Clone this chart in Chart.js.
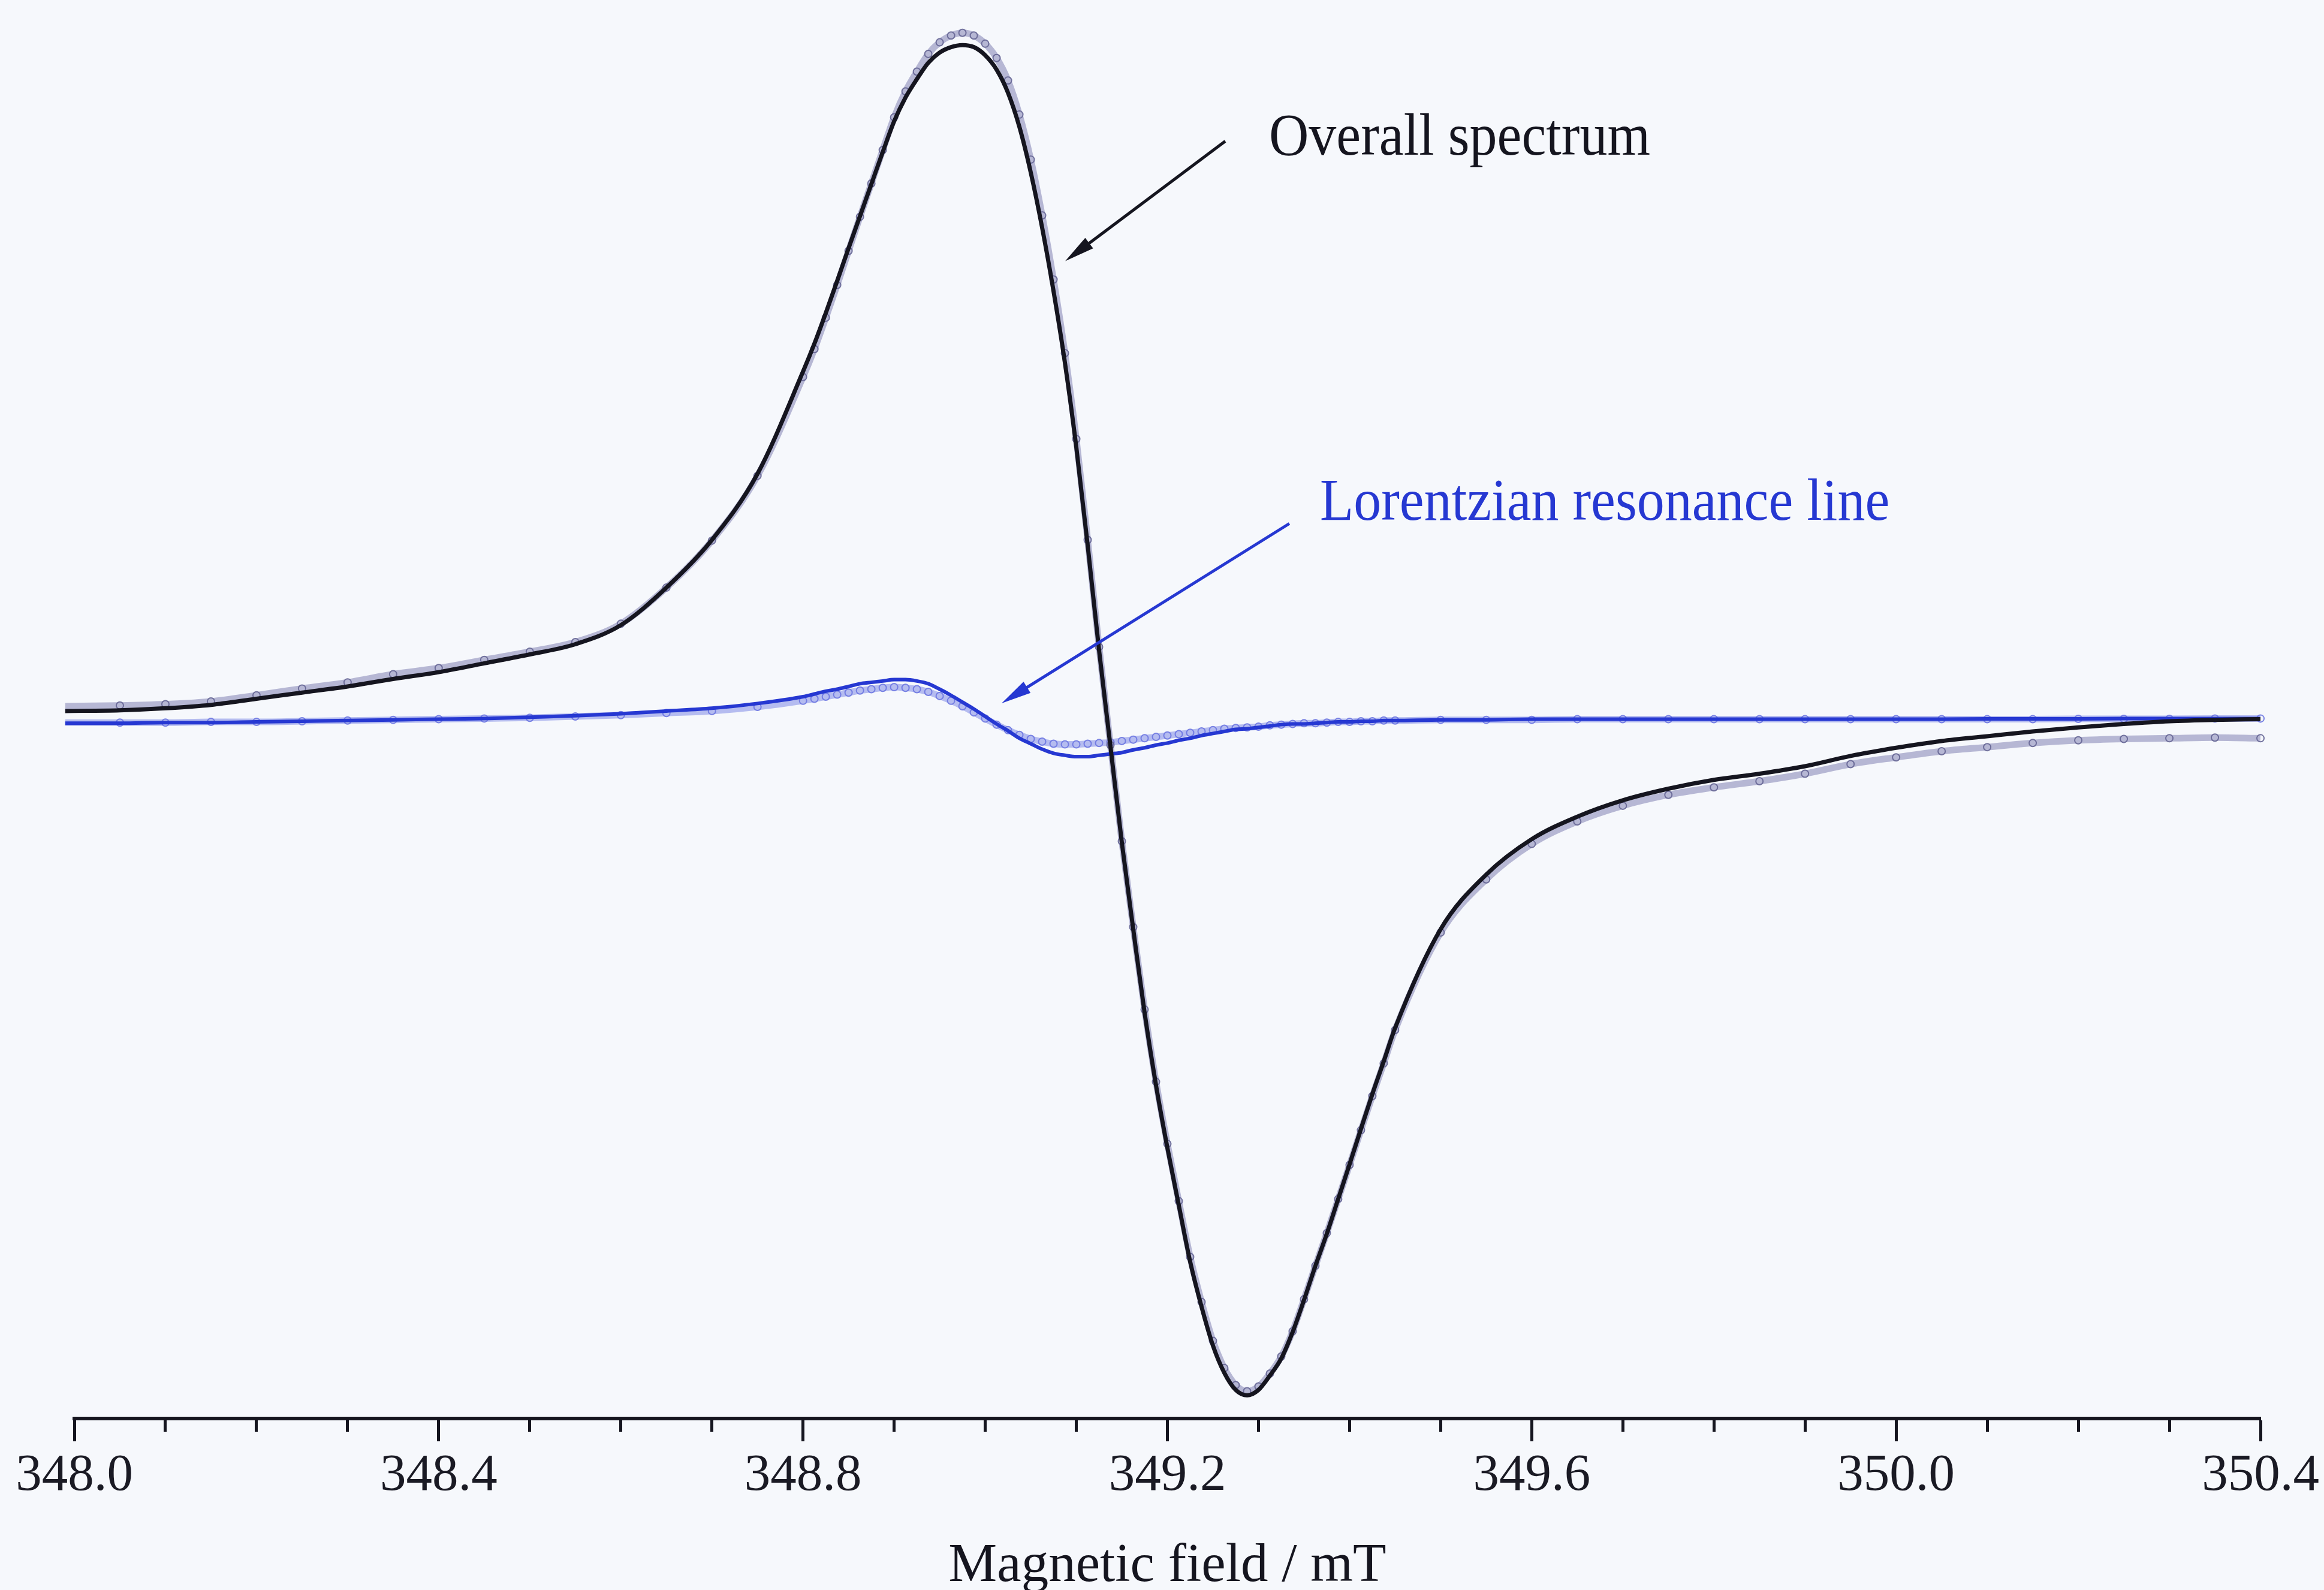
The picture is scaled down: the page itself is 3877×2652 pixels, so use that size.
<!DOCTYPE html>
<html>
<head>
<meta charset="utf-8">
<title>ESR spectrum</title>
<script src="https://cdn.jsdelivr.net/npm/chart.js@4/dist/chart.umd.min.js"></script>
<style>
  html, body { margin: 0; padding: 0; background: #f6f8fc; overflow: hidden; }
  #wrap { width: 3877px; height: 2652px; }
</style>
</head>
<body>
<div id="wrap"><canvas id="spectrum" width="3877" height="2652"></canvas></div>
<script>
// magnetic field (mT), shared by all four series
let fieldMT = [
  347.99, 348.05, 348.10, 348.15, 348.20, 348.25, 348.30, 348.35, 348.40, 348.45, 348.50, 348.55, 348.60, 348.65, 348.70, 348.75,
  348.8, 348.8125, 348.825, 348.8375, 348.85, 348.8625, 348.875, 348.8875, 348.9, 348.9125, 348.925, 348.9375, 348.95, 348.9625, 348.975, 348.9875,
  349.0, 349.0125, 349.025, 349.0375, 349.05, 349.0625, 349.075, 349.0875, 349.1, 349.1125, 349.125, 349.1375, 349.15, 349.1625, 349.175, 349.1875,
  349.2, 349.2125, 349.225, 349.2375, 349.25, 349.2625, 349.275, 349.2875, 349.3, 349.3125, 349.325, 349.3375, 349.35, 349.3625, 349.375, 349.3875,
  349.4, 349.4125, 349.425, 349.4375, 349.45,
  349.5, 349.55, 349.6, 349.65, 349.7, 349.75, 349.8, 349.85, 349.9, 349.95, 350.0, 350.05, 350.1, 350.15, 350.2, 350.25, 350.3, 350.35, 350.4
];

// overall spectrum, fitted line (arb. units)
let overallFit = [
  1.5, 1.6, 1.9, 2.4, 3.3, 4.2, 5.1, 6.2, 7.2, 8.5, 9.8, 11.3, 14.1, 19.6, 26.6, 36.3,
  51.3, 55.4, 59.9, 64.6, 69.4, 74.1, 78.8, 83.5, 88.0, 91.5, 94.2, 96.6, 98.1, 98.9, 99.2, 98.9,
  97.7, 95.6, 92.2, 87.2, 80.5, 72.4, 63.1, 52.6, 40.2, 25.8, 10.4, -3.7, -17.8, -30.5, -42.8, -53.4,
  -62.6, -71.0, -79.3, -85.9, -91.6, -95.6, -98.1, -98.9, -98.1, -96.0, -93.5, -89.6, -84.9, -79.9, -75.2, -70.1,
  -65.0, -59.8, -54.7, -49.9, -45.0,
  -30.5, -22.5, -17.3, -14.0, -11.6, -9.9, -8.6, -7.7, -6.6, -5.1, -3.9, -2.9, -2.2, -1.5, -0.9, -0.4, 0.0, 0.2, 0.3
];

// overall spectrum, measured points
let overallExp = [
  2.2, 2.3, 2.5, 2.9, 3.8, 4.8, 5.7, 6.9, 7.8, 9.0, 10.2, 11.6, 14.3, 19.6, 26.5, 36.0,
  50.5, 54.6, 59.2, 64.0, 69.0, 74.0, 78.9, 83.8, 88.6, 92.4, 95.3, 97.9, 99.6, 100.6, 101.0, 100.6,
  99.4, 97.3, 94.0, 89.0, 82.4, 74.2, 64.8, 54.0, 41.4, 26.6, 10.9, -3.5, -17.6, -30.2, -42.3, -52.9,
  -62.0, -70.4, -78.6, -85.2, -90.9, -94.9, -97.4, -98.3, -97.6, -95.7, -93.2, -89.5, -84.8, -79.9, -75.1, -70.1,
  -65.1, -60.0, -55.0, -50.2, -45.3,
  -31.0, -23.2, -18.0, -14.7, -12.4, -10.8, -9.7, -8.8, -7.7, -6.3, -5.3, -4.4, -3.8, -3.2, -2.8, -2.6, -2.5, -2.4, -2.5
];

// Lorentzian component, fitted line
let lorentzFit = [
  -0.3, -0.3, -0.2, -0.2, -0.1, 0.0, 0.1, 0.2, 0.3, 0.4, 0.6, 0.8, 1.1, 1.5, 1.9, 2.6,
  3.6, 4.0, 4.4, 4.7, 5.1, 5.5, 5.7, 5.9, 6.1, 6.1, 5.9, 5.5, 4.7, 3.8, 2.8, 1.8,
  0.7, -0.4, -1.4, -2.5, -3.3, -4.1, -4.7, -5.0, -5.2, -5.2, -5.0, -4.8, -4.6, -4.2, -3.9, -3.5,
  -3.2, -2.8, -2.5, -2.1, -1.8, -1.5, -1.2, -1.1, -0.9, -0.7, -0.5, -0.4, -0.4, -0.3, -0.2, -0.1,
  -0.1, 0.0, 0.0, 0.1, 0.1,
  0.2, 0.2, 0.3, 0.3, 0.3, 0.3, 0.3, 0.3, 0.3, 0.3, 0.3, 0.3, 0.35, 0.35, 0.35, 0.4, 0.4, 0.4, 0.4
];

// Lorentzian component, measured points
let lorentzExp = [
  -0.2, -0.2, -0.2, -0.1, -0.1, 0.0, 0.1, 0.2, 0.3, 0.4, 0.5, 0.7, 0.9, 1.2, 1.5, 2.1,
  3.0, 3.3, 3.6, 3.9, 4.2, 4.5, 4.7, 4.9, 5.0, 4.9, 4.7, 4.3, 3.7, 3.0, 2.2, 1.3,
  0.4, -0.5, -1.3, -2.0, -2.6, -3.0, -3.3, -3.4, -3.4, -3.3, -3.2, -3.1, -2.9, -2.7, -2.5, -2.3,
  -2.1, -1.9, -1.7, -1.5, -1.3, -1.1, -1.0, -0.9, -0.8, -0.6, -0.5, -0.4, -0.3, -0.3, -0.2, -0.1,
  -0.1, 0.0, 0.0, 0.1, 0.1,
  0.2, 0.2, 0.2, 0.3, 0.3, 0.3, 0.3, 0.3, 0.3, 0.3, 0.3, 0.3, 0.3, 0.3, 0.35, 0.35, 0.35, 0.4, 0.4
];

// axis range and labelled ticks
let fieldMin = 348.0;
let fieldMax = 350.4;
let minorStep = 0.1;
let majorStep = 0.4;

let serif = "'Liberation Serif', 'Times New Roman', serif";
let inkBlack = "#15151f";
let inkBlue = "rgb(38,56,210)";

// callouts: text anchored at (x, y) in data units, arrow from -> to
let callouts = [
  { text: "Overall spectrum", color: inkBlack, x: 349.3115, y: 83.1,
    from: [349.2635, 85.1], to: [349.0878, 67.5] },
  { text: "Lorentzian resonance line", color: inkBlue, x: 349.3675, y: 29.55,
    from: [349.3339, 29.0], to: [349.018, 2.64] }
];

function toPoints(values) {
  let pts = [];
  values.forEach((v, i) => { pts.push({ x: fieldMT[i], y: v }); });
  return pts;
}

function isMajor(value) {
  let k = (value - fieldMin) / majorStep;
  return Math.abs(k - Math.round(k)) < 1e-6;
}

// draws the two labels with their arrows on top of the curves
let calloutPlugin = {
  id: 'callouts',
  afterDatasetsDraw(chart) {
    let ctx = chart.ctx;
    let xs = chart.scales.x;
    let ys = chart.scales.y;
    callouts.forEach(c => {
      let x0 = xs.getPixelForValue(c.from[0]);
      let y0 = ys.getPixelForValue(c.from[1]);
      let x1 = xs.getPixelForValue(c.to[0]);
      let y1 = ys.getPixelForValue(c.to[1]);
      let ang = Math.atan2(y1 - y0, x1 - x0);
      let headLen = 50;
      let headHalf = 11;

      ctx.save();
      ctx.strokeStyle = c.color;
      ctx.fillStyle = c.color;
      ctx.lineWidth = 5;
      ctx.beginPath();
      ctx.moveTo(x0, y0);
      ctx.lineTo(x1 - Math.cos(ang) * (headLen - 6), y1 - Math.sin(ang) * (headLen - 6));
      ctx.stroke();

      // arrow head
      let bx = x1 - Math.cos(ang) * headLen;
      let by = y1 - Math.sin(ang) * headLen;
      ctx.beginPath();
      ctx.moveTo(x1, y1);
      ctx.lineTo(bx + Math.sin(ang) * headHalf, by - Math.cos(ang) * headHalf);
      ctx.lineTo(bx - Math.sin(ang) * headHalf, by + Math.cos(ang) * headHalf);
      ctx.closePath();
      ctx.fill();

      // slightly narrow serif text
      let tx = xs.getPixelForValue(c.x);
      let ty = ys.getPixelForValue(c.y);
      ctx.translate(tx, ty);
      ctx.scale(0.92, 1);
      ctx.font = "100px " + serif;
      ctx.textAlign = 'left';
      ctx.textBaseline = 'alphabetic';
      ctx.fillText(c.text, 0, 0);
      ctx.restore();
    });
  }
};

let chart = new Chart(document.getElementById('spectrum').getContext('2d'), {
  type: 'line',
  data: {
    datasets: [
      {
        label: 'Overall spectrum (fit)',
        data: toPoints(overallFit),
        borderColor: inkBlack,
        borderWidth: 7,
        pointRadius: 0,
        cubicInterpolationMode: 'monotone',
        clip: false
      },
      {
        label: 'Lorentzian resonance line (fit)',
        data: toPoints(lorentzFit),
        borderColor: inkBlue,
        borderWidth: 6,
        pointRadius: 0,
        cubicInterpolationMode: 'monotone',
        clip: false
      },
      {
        label: 'Overall spectrum (measured)',
        data: toPoints(overallExp),
        borderColor: 'rgba(130,130,178,0.55)',
        borderWidth: 11,
        pointRadius: 6,
        pointBorderWidth: 2,
        pointBorderColor: 'rgba(100,100,148,0.9)',
        pointBackgroundColor: 'rgba(0,0,0,0)',
        cubicInterpolationMode: 'monotone',
        clip: false
      },
      {
        label: 'Lorentzian resonance line (measured)',
        data: toPoints(lorentzExp),
        borderColor: 'rgba(128,138,230,0.55)',
        borderWidth: 11,
        pointRadius: 6,
        pointBorderWidth: 2,
        pointBorderColor: 'rgba(108,118,225,0.9)',
        pointBackgroundColor: 'rgba(0,0,0,0)',
        cubicInterpolationMode: 'monotone',
        clip: false
      }
    ]
  },
  options: {
    responsive: false,
    animation: false,
    events: [],
    layout: { padding: { top: 20, left: 124, right: 106, bottom: 0 } },
    plugins: {
      legend: { display: false },
      tooltip: { enabled: false }
    },
    scales: {
      x: {
        type: 'linear',
        min: fieldMin,
        max: fieldMax,
        afterFit: (scale) => { scale.height = 286; },
        border: { display: true, color: inkBlack, width: 6 },
        grid: {
          display: true,
          drawOnChartArea: false,
          drawTicks: true,
          tickLength: 38,
          tickWidth: 5,
          tickColor: inkBlack,
          // minor ticks: only the first part of the tick line is drawn
          tickBorderDash: (ctx) => (ctx.tick && !isMajor(ctx.tick.value)) ? [19, 200] : []
        },
        ticks: {
          stepSize: minorStep,
          autoSkip: false,
          maxRotation: 0,
          minRotation: 0,
          padding: 6,
          color: '#1a1a24',
          font: { family: serif, size: 87 },
          callback: (value) => isMajor(value) ? value.toFixed(1) : ''
        },
        title: {
          display: true,
          text: 'Magnetic field / mT',
          color: '#15151f',
          font: { family: serif, size: 91 },
          padding: { top: 0, bottom: -16 }
        }
      },
      y: {
        type: 'linear',
        display: false,
        min: -102.3,
        max: 104.05
      }
    }
  },
  plugins: [calloutPlugin]
});
</script>
</body>
</html>
